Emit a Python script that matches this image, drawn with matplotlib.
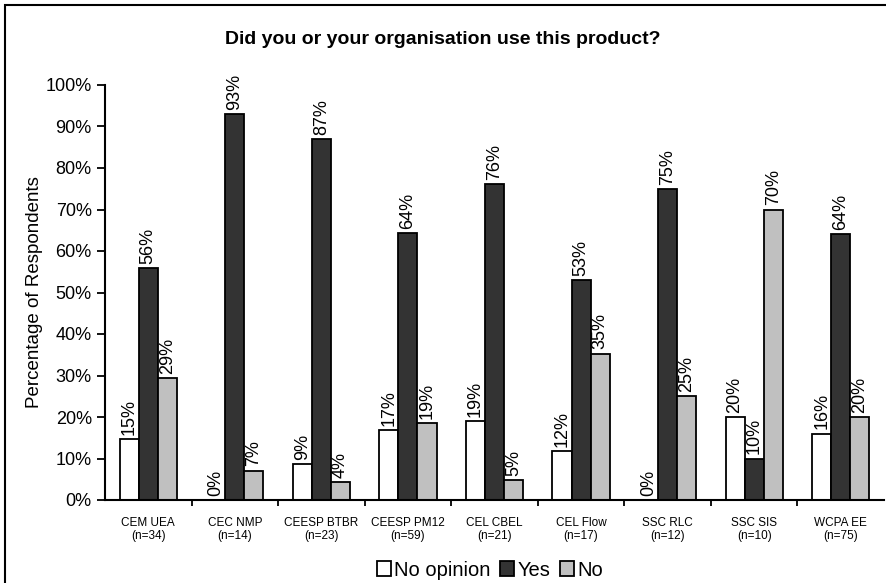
import numpy as np
import matplotlib.pyplot as plt
from matplotlib.patches import Rectangle
from matplotlib.ticker import FixedLocator, PercentFormatter

plt.rcParams['font.family'] = ['Liberation Sans', 'DejaVu Sans']

categories = ['CEM UEA\n(n=34)', 'CEC NMP\n(n=14)', 'CEESP BTBR\n(n=23)',
              'CEESP PM12\n(n=59)', 'CEL CBEL\n(n=21)', 'CEL Flow\n(n=17)',
              'SSC RLC\n(n=12)', 'SSC SIS\n(n=10)', 'WCPA EE\n(n=75)']
no_opinion = [14.7, 0.0, 8.7, 16.9, 19.0, 11.8, 0.0, 20.0, 16.0]
yes = [55.9, 92.9, 87.0, 64.4, 76.2, 52.9, 75.0, 10.0, 64.0]
no = [29.4, 7.1, 4.3, 18.6, 4.8, 35.3, 25.0, 70.0, 20.0]

series = [('No opinion', no_opinion, 'white'),
          ('Yes', yes, '#333333'),
          ('No', no, '#c0c0c0')]

fig = plt.figure(figsize=(8.86, 5.83), dpi=100)
ax = fig.add_axes([105 / 886, 1 - 500 / 583, (884 - 105) / 886, (500 - 85) / 583])

x = np.arange(len(categories))
w = 0.22
for i, (name, vals, col) in enumerate(series):
    pos = x + (i - 1) * w
    bars = ax.bar(pos, vals, w, color=col, edgecolor='black', linewidth=1.3,
                  label=name)
    for b, v in zip(bars, vals):
        ax.annotate(f'{v:.0f}%', (b.get_x() + b.get_width() / 2, v),
                    xytext=(0, 3), textcoords='offset points',
                    rotation=90, ha='center', va='bottom', fontsize=13)

ax.set_xlim(-0.5, len(categories) - 0.5)
ax.set_ylim(0, 100)
ax.yaxis.set_major_locator(FixedLocator(np.arange(0, 101, 10)))
ax.yaxis.set_major_formatter(PercentFormatter(decimals=0))
ax.tick_params(axis='y', labelsize=13, length=6, width=1.3, direction='out')

ax.set_xticks(x)
ax.set_xticklabels(categories, fontsize=8.5)
ax.tick_params(axis='x', which='major', length=0, pad=12)
ax.xaxis.set_minor_locator(FixedLocator(np.arange(0.5, len(categories) - 0.5, 1)))
ax.tick_params(axis='x', which='minor', length=4, width=1.3, direction='out')

ax.set_ylabel('Percentage of Respondents', fontsize=13.5, labelpad=2)
for s in ['top', 'right']:
    ax.spines[s].set_visible(False)
for s in ['left', 'bottom']:
    ax.spines[s].set_linewidth(1.5)

fig.text(0.5, 1 - 40 / 583, 'Did you or your organisation use this product?',
         ha='center', va='center', fontsize=14, fontweight='bold')

fig.legend(loc='center', bbox_to_anchor=(490 / 886, 1 - 570 / 583), ncol=3,
           frameon=False, fontsize=14.5, handlelength=0.7, handleheight=0.7,
           handletextpad=0.15, columnspacing=0.5, borderpad=0)

fig.patches.append(Rectangle((5 / 886, -0.1), 1.2, 1.1 - 5 / 583,
                             transform=fig.transFigure, fill=False,
                             edgecolor='black', linewidth=1.5))

fig.savefig('out.png', dpi=100)
